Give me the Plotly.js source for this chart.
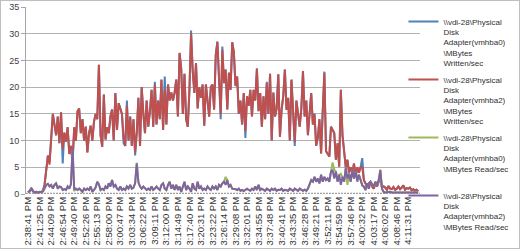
<!DOCTYPE html>
<html><head><meta charset="utf-8">
<script src="https://cdn.plot.ly/plotly-3.0.1.min.js"></script>
<style>
html,body{margin:0;padding:0;background:#fff;}
#chart{width:520px;height:249px;}
#frame{position:absolute;left:0;top:0;width:518px;height:247px;border:1px solid #bfbfbf;pointer-events:none;}
</style>
</head><body>
<div id="chart"></div><div id="frame"></div>
<script>
const timeLabels = ["2:38:41 PM","2:41:25 PM","2:44:09 PM","2:46:54 PM","2:49:40 PM","2:52:26 PM","2:55:13 PM","2:58:00 PM","3:00:47 PM","3:03:34 PM","3:06:22 PM","3:09:11 PM","3:12:00 PM","3:14:49 PM","3:17:40 PM","3:20:31 PM","3:23:22 PM","3:26:14 PM","3:29:08 PM","3:32:01 PM","3:34:55 PM","3:37:48 PM","3:40:41 PM","3:43:35 PM","3:46:28 PM","3:49:21 PM","3:52:11 PM","3:54:59 PM","3:57:46 PM","4:00:32 PM","4:03:17 PM","4:06:02 PM","4:08:46 PM","4:11:31 PM"];

const seriesNames = [
  "\\\\vdi-28\\Physical<br>Disk<br>Adapter(vmhba0)<br>\\MBytes<br>Written/sec",
  "\\\\vdi-28\\Physical<br>Disk<br>Adapter(vmhba2)<br>\\MBytes<br>Written/sec",
  "\\\\vdi-28\\Physical<br>Disk<br>Adapter(vmhba0)<br>\\MBytes Read/sec<br>\u00a0",
  "\\\\vdi-28\\Physical<br>Disk<br>Adapter(vmhba2)<br>\\MBytes Read/sec"
];

const writtenVmhba0 = [
0.3,0.6,1.1,0.5,0.3,0.4,0.3,
0.4,0.3,0.6,1.8,4.5,7.2,6,
11.5,15,13,11,14.5,9.5,15.3,
5.7,11.5,9.8,12.5,7.5,9,5.5,
12.5,10,15.5,16,11.4,14,10,
12.6,7.8,11.4,12.8,10,13.5,15,
14,24.2,11,8.8,18.6,10.2,12.5,
11.4,14.5,15.8,10,18.9,12,17,
16,15,9.5,9,17.5,10,14.5,
9,14,7.2,11.5,18,9,20,
15,11.4,17.5,12.6,15.5,19.5,12.6,
21,13,17.5,14,21.4,12,22,
13,20.5,17.5,19,17.5,19,21.4,
14.5,26.4,23.5,15,22.5,14,12.6,
19.5,30.6,23,18.9,24.5,16,20,
18,20.5,12.8,20.5,17,14.5,20,
20.5,15.8,26,28.5,22,14,27.6,
20.75,23.3,15.8,22.7,19.5,28.4,26.5,
20.2,22,15,17.5,13,18.9,10.5,
18.3,16.5,19.5,14.5,19.5,17.5,23.5,
15.5,18.9,12.6,18.3,14,21,15,
22.5,10,19,14.5,16,22.4,10.7,
15.75,18.3,23.3,15.75,18,10,21.4,
16,9,17.5,15.5,12.6,16,23,
14.5,17.5,11,14.5,18.9,13,15,
9,10.5,14,7.6,15.5,22.9,8,
7.6,7,12.6,12,11.4,6.4,9.5,
5.1,19.5,11,7.5,5,6.4,4,
5,4,5.7,3.3,5,4,5,
6.7,2.6,2,1.4,2,2.3,1.4,
1,2,1.4,2.3,3.5,1.2,1.4,
1.2,0.8,1.5,1,0.9,1.3,0.8,
1,1.4,0.9,1.2,1.6,0.8,1.1,
1,1.2,0.7,0.9,0.6,0.8,0.5
];

const writtenVmhba2 = [
0.3,0.6,1.1,0.5,0.3,0.4,0.3,
0.4,0.3,0.6,1.8,4.5,7.2,5.5,
11.2,15,13,11,14.5,9.5,15.3,
8.5,11.5,9.8,12.5,7.5,9,6.5,
12.5,10,15.5,16,11.4,14,10,
12.6,7.8,11.4,12.8,10,13.5,15,
14,24.2,11,8.8,18.6,10.2,12.5,
11.4,14.5,15.8,10,18.9,12,17,
16,15,10.5,9,16.5,10,14.5,
9,14,7.8,11.5,18,9,20,
15,11.4,17.5,12.6,15.5,19.5,12.6,
20.5,13,17.5,14,21.4,12,19.5,
13,20.5,17.5,19,17.5,19,21.4,
14.5,26.4,23.5,15,22.5,14,12.6,
19.5,30,23,18.9,24.5,16,20,
18,20.5,12.8,20.5,17,14.5,20,
20.5,15.8,26,28.5,22,15,27,
20.75,23.3,15.8,22.7,19.5,28.4,26.5,
20.2,22,15,17.5,13,18.9,11.8,
18.3,16.5,19.5,14.5,19.5,17.5,23.5,
15.5,18.9,12.6,18.3,14,20.7,15,
22.5,10,19,14.5,16,22.4,10.7,
15.75,18.3,23.3,15.75,18,10,21.4,
16,9.8,17.5,15.5,12.6,16,23,
14.5,17.5,11,14.5,18.9,13,15,
9,10.5,14,7.6,15.5,22.7,8,
7.6,7,12.6,12,11.4,6.4,9.5,
5.1,19.5,11,7.5,5,6.4,4,
5,4,5.7,3.3,5,4,5,
5,2.6,2,1.4,2,2.3,1.4,
1,2,1.4,2.3,3.5,1.2,1.4,
1.2,0.8,1.5,1,0.9,1.3,0.8,
1,1.4,0.9,1.2,1.6,0.8,1.1,
1,1.2,0.7,0.9,0.6,0.8,0.5
];

const readVmhba0 = [
0.3,0.5,1.0,0.5,0.3,0.4,0.3,
0.3,0.4,0.5,1.2,1.7,1.9,1.4,
1.7,1.0,1.7,2.0,1.0,1.4,1.3,
0.75,0.9,0.75,1.4,1.0,1.8,8.3,
0.5,1.0,0.75,1.0,0.75,0.4,1.0,
0.75,1.0,0.75,1.4,0.4,0.75,1.2,
2.3,1.8,0.75,1.0,0.75,1.4,1.0,
2.0,1.4,2.6,1.4,1.7,1.0,0.75,
1.4,0.75,1.0,0.75,1.4,1.0,1.7,
1.0,1.2,2.0,5.9,2.2,1.4,1.0,
1.4,1.0,0.75,1.0,0.75,1.4,0.75,
1.0,1.4,1.0,0.75,1.7,2.0,1.0,
0.75,1.7,2.3,1.0,1.7,0.75,1.7,
0.75,1.4,0.4,1.4,2.3,0.75,1.4,
1.0,0.4,2.0,1.0,0.75,2.3,1.0,
1.4,0.75,1.0,0.75,1.4,1.0,0.75,
1.4,1.0,1.4,0.75,1.7,1.4,2.0,
2.3,3.2,2.6,1.4,1.7,1.0,1.0,
0.9,0.75,1.0,0.6,0.75,0.55,0.75,
1.0,0.75,0.6,1.0,0.75,1.4,0.75,
1.7,0.75,1.0,0.75,0.6,1.0,0.75,
0.6,1.0,0.75,1.0,0.6,0.8,0.75,
1.0,0.6,0.8,0.75,0.6,1.0,0.75,
0.6,1.0,0.75,0.6,1.0,0.75,0.6,
0.8,0.6,1.0,1.7,2.6,2.3,3.2,
2.3,2.9,2.0,3.6,2.3,3.2,2.6,
2.9,2.3,4.2,5.9,4.5,4.2,2.3,
3.6,3.8,3.2,2.3,4.9,1.7,3.8,
2.3,4.5,2.9,4.2,3.0,3.6,2.6,
1.5,1.4,0.75,2.0,1.0,2.3,1.7,
1.4,2.3,1.7,2.6,4.5,1.0,0.4,
0.3,0.35,0.3,0.4,0.3,0.35,0.3,
0.3,0.3,0.4,0.3,0.35,0.3,0.3,
0.3,0.35,0.3,0.3,0.4,0.3,0.3
];

const readVmhba2 = [
0.3,0.5,1.0,0.5,0.3,0.4,0.3,
0.3,0.4,0.5,1.2,1.7,1.9,1.4,
1.7,1.0,1.7,2.0,1.0,1.4,1.3,
0.75,0.9,0.75,1.4,1.0,1.8,8.5,
0.9,1.0,0.75,1.0,0.75,0.4,1.0,
0.75,1.0,0.75,1.4,0.4,0.75,1.2,
2.3,1.8,0.75,1.0,0.75,1.4,1.0,
2.0,1.4,2.6,1.4,1.7,1.0,0.75,
1.4,0.75,1.0,0.75,1.4,1.0,1.7,
1.0,1.2,2.0,5.7,2.2,1.4,1.0,
1.4,1.0,0.75,1.0,0.75,1.4,0.75,
1.0,1.4,1.0,0.75,1.7,2.0,1.0,
0.75,1.7,2.3,1.0,1.7,0.75,1.7,
0.75,1.4,0.4,1.4,2.3,0.75,1.4,
1.0,0.4,2.0,1.0,0.75,2.3,1.0,
1.4,0.75,1.0,0.75,1.4,1.0,0.75,
1.4,1.0,1.4,0.75,1.7,1.4,2.0,
2.3,1.7,2.6,1.4,1.7,1.0,1.0,
0.9,0.75,1.0,0.6,0.75,0.55,0.75,
1.0,0.75,0.6,1.0,0.75,1.4,0.75,
1.7,0.75,1.0,0.75,0.6,1.0,0.75,
0.6,1.0,0.75,1.0,0.6,0.8,0.75,
1.0,0.6,0.8,0.75,0.6,1.0,0.75,
0.6,1.0,0.75,0.6,1.0,0.75,0.6,
0.8,0.6,1.0,1.7,2.6,2.3,3.2,
2.3,2.9,2.0,3.6,2.3,3.2,2.6,
2.9,2.3,4.2,4.5,2.9,4.2,2.3,
3.6,1.7,3.2,2.3,4.9,2.9,3.8,
2.3,4.5,2.9,4.2,2.3,3.6,2.6,
1.7,1.4,0.75,2.0,1.0,2.3,1.7,
1.4,2.3,1.7,2.6,4.5,1.0,0.4,
0.3,0.35,0.3,0.4,0.3,0.35,0.3,
0.3,0.3,0.4,0.3,0.35,0.3,0.3,
0.3,0.35,0.3,0.3,0.4,0.3,0.3
];

const seriesColors = ["#4F81BD","#C0504D","#9BBB59","#8064A2"];
const seriesData = [writtenVmhba0, writtenVmhba2, readVmhba0, readVmhba2];
const pointsPerLabel = 7;

const xIdx = writtenVmhba2.map((_, i) => i);
const traces = seriesData.map((ys, k) => ({
  type: 'scatter', mode: 'lines',
  x: xIdx, y: ys,
  name: seriesNames[k],
  legendgroup: 'g' + k,
  line: {color: seriesColors[k], width: 2},
  hoverinfo: 'skip'
}));

const font = 'Liberation Sans, Arial, sans-serif';
const layout = {
  width: 520, height: 249,
  margin: {l: 26, r: 82, t: 7, b: 55, pad: 0},
  paper_bgcolor: '#fff', plot_bgcolor: '#fff',
  font: {family: font, size: 8, color: '#404040'},
  showlegend: true,
  legend: {
    x: 0.958, xanchor: 'left', y: 0.985, yanchor: 'top',
    valign: 'top', bgcolor: 'rgba(0,0,0,0)', borderwidth: 0,
    tracegroupgap: 3, traceorder: 'grouped', maxheight: 245,
    font: {family: font, size: 8, color: '#303030'}
  },
  xaxis: {
    range: [-1.3, 238.1],
    tickmode: 'array',
    tickvals: timeLabels.map((_, i) => i * pointsPerLabel),
    ticktext: timeLabels,
    tickangle: -90,
    tickfont: {family: font, size: 9.5, color: '#333'},
    showgrid: false, zeroline: false, showline: false,
    ticks: '', automargin: false, fixedrange: true
  },
  yaxis: {
    range: [0, 35], dtick: 5, tick0: 0,
    showgrid: true, gridcolor: '#b3b3b3', gridwidth: 1,
    zeroline: false, showline: true, linecolor: '#a6a6a6', linewidth: 1,
    ticks: 'outside', ticklen: 4, tickcolor: '#a6a6a6',
    tickfont: {family: font, size: 9, color: '#404040'},
    automargin: false, fixedrange: true
  },
  shapes: [{
    type: 'line', xref: 'paper', x0: 0, x1: 1, yref: 'y', y0: 0, y1: 0,
    line: {color: '#a0a0a0', width: 2.5, dash: '2px,1px'}, layer: 'below'
  }]
};

Plotly.newPlot('chart', traces, layout, {staticPlot: true, displayModeBar: false});
</script>
</body></html>
